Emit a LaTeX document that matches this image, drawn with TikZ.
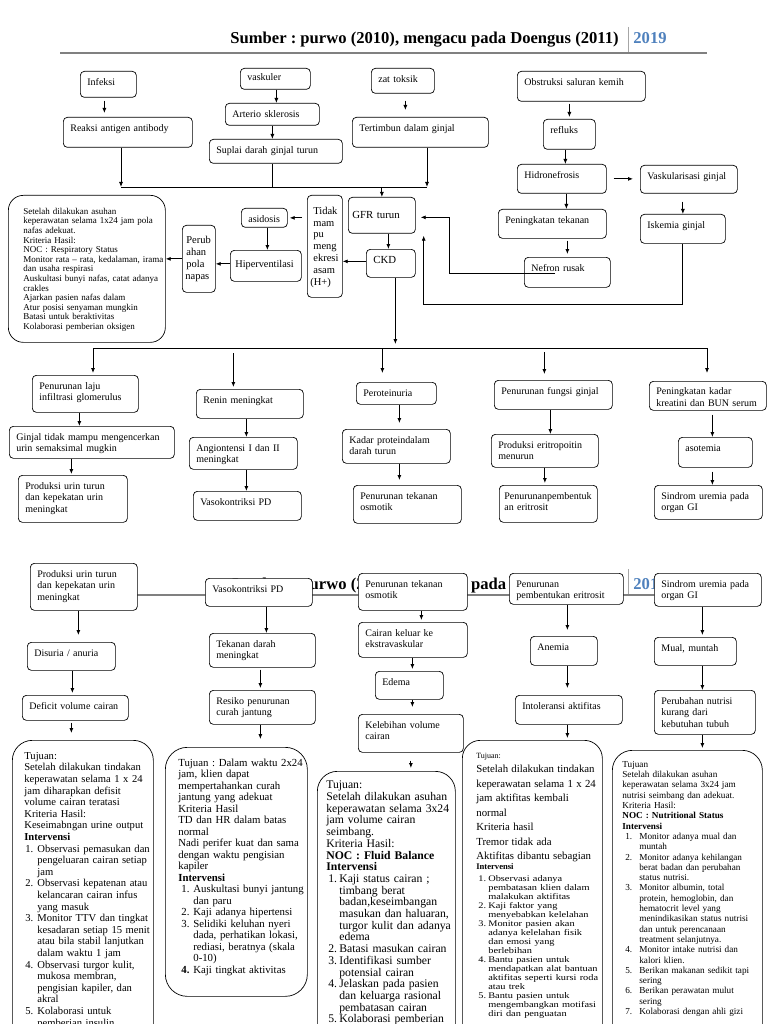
\documentclass[tikz,border=0pt]{standalone}
\usepackage{fontspec}
\setmainfont{Liberation Serif}
\newfontfamily\widefont{Liberation Serif}[FakeStretch=1.2]
\usepackage{xcolor}
\usepackage{tikz}
\usetikzlibrary{arrows.meta,positioning,calc}

\definecolor{yearblue}{RGB}{79,129,189}
\definecolor{rulegray}{RGB}{128,128,128}

\newlength{\itemw}
\newlength{\itemo}
\newcommand{\itm}[1]{\makebox[\itemw][l]{\hspace*{\itemo}#1}}
\newcommand{\ctn}{\hspace*{\itemw}}
\newcommand{\srcline}{Sumber : purwo (2010), mengacu pada Doengus (2011)}
\frenchspacing

\begin{document}
\begin{tikzpicture}[x=1pt, y=-1pt, line width=0.8pt,
    >={Latex[length=5pt,width=4pt]},
    box/.style 2 args={draw, line width=0.7pt, rounded corners=4pt, fill=white,
        anchor=north west, align=left, font=\fontsize{10}{11.6}\selectfont,
        inner xsep=7pt, inner ysep=3pt, minimum width=#1, minimum height=#2,
        text width=#1-14, text height=11pt, text depth=#2-17},
    tbox/.style n args={3}{draw, line width=0.7pt, rounded corners=18pt, fill=white,
        anchor=north west, align=left, inner xsep=4pt, inner ysep=0pt,
        minimum width=#1, minimum height=#2, text width=#1-8,
        text height=19pt, text depth=#2-19,
        execute at begin node={\leftskip=#3\relax\rightskip=-40pt plus 1fil\relax}},
    hdr/.style={anchor=base west, inner sep=0pt, font=\fontsize{16.6}{18}\selectfont\bfseries}]

    \useasboundingbox (0,0) rectangle (768,1024);
    \clip (0,0) rectangle (768,1024);
    \fill[white] (0,0) rectangle (768,1024);

    % Header
    \node[hdr] (src1) at (230,44) {\srcline};
    \node[hdr, text=yearblue] (yr1) at (633,44) {2019};
    \draw[rulegray!70, line width=0.6pt] (628,27) -- (628,52);
    \draw[rulegray, line width=1.4pt] (60,53) -- (707,53);

    % Header of the second sheet, mostly hidden behind the boxes
    \node[hdr] (src2) at (230,589) {\srcline};
    \node[hdr, text=yearblue] (yr2) at (633,589) {2019};
    \draw[rulegray!70, line width=0.6pt] (628,569) -- (628,594);
    \draw[rulegray, line width=1.4pt] (60,595) -- (707,595);

    % Causes
    \node[box={56}{26}] (infeksi) at (80,71) {Infeksi};
    \node[box={70}{21}, text height=9.5pt, text depth=5.5pt] (vaskuler) at (240,68) {vaskuler};
    \node[box={63}{25}] (toksik) at (371,68) {zat toksik};
    \node[box={128}{30}] (obstruksi) at (517,71) {Obstruksi saluran kemih};
    \node[box={129}{30}] (reaksi) at (63,117) {Reaksi antigen antibody};
    \node[box={94}{22}] (arterio) at (225,103) {Arterio sklerosis};
    \node[box={133}{24}] (suplai) at (209,139) {Suplai darah ginjal turun};
    \node[box={136}{30}] (tertimbun) at (352,117) {Tertimbun dalam ginjal};
    \node[box={52}{30}] (refluks) at (543,119) {refluks};
    \node[box={89}{29}] (hidro) at (517,164) {Hidronefrosis};
    \node[box={97}{28}] (vaskularisasi) at (640,165) {Vaskularisasi ginjal};
    \node[box={108}{29}] (tekanan) at (498,209) {Peningkatan tekanan};
    \node[box={85}{29}] (iskemia) at (640,214) {Iskemia ginjal};
    \node[box={86}{30}] (nefron) at (524,257) {Nefron rusak};

    % GFR, CKD and breathing
    \node[box={67}{36}, font=\fontsize{10.8}{12}\selectfont, inner xsep=4pt, text width=59pt,
        text height=18.5pt, text depth=11.5pt] (gfr) at (348,197) {GFR turun};
    \node[box={49}{28}, font=\fontsize{10.8}{12}\selectfont] (ckd) at (366,249) {CKD};
    \node[box={35}{102}, font=\fontsize{10.5}{11.8}\selectfont, inner xsep=3pt, text width=29pt,
        text height=16pt, text depth=80pt] (asam) at (307,195)
        {\leftskip=3pt Tidak\\mam\\pu\\meng\\ekresi\\asam\\(H+)};
    \node[box={46}{19}] (asidosis) at (241,208) {asidosis};
    \node[box={71}{31}, font=\fontsize{10.3}{12}\selectfont, inner xsep=5pt, text width=61pt,
        text height=14.5pt, text depth=10.5pt] (hiper) at (230,250) {Hiperventilasi};
    \node[box={33}{67}, font=\fontsize{10.5}{12}\selectfont, inner xsep=3pt, text width=27pt,
        text height=15pt, text depth=46pt] (pola) at (182,225) {\leftskip=1pt Perub\\ahan\\pola\\napas};
    \node[tbox={157}{147}{11pt}, rounded corners=15pt, font=\fontsize{9}{9.6}\selectfont] (respirasi) at (8,195)
        {Setelah dilakukan asuhan\\
         keperawatan selama 1x24 jam pola\\
         nafas adekuat.\\
         Kriteria Hasil:\\
         NOC : Respiratory Status\\
         Monitor rata -- rata, kedalaman, irama\\
         dan usaha respirasi\\
         Auskultasi bunyi nafas, catat adanya\\
         crakles\\
         Ajarkan pasien nafas dalam\\
         Atur posisi senyaman mungkin\\
         Batasi untuk beraktivitas\\
         Kolaborasi pemberian oksigen};

    % Effects of CKD
    \node[box={106}{37}] (laju) at (32,375) {Penurunan laju\\infiltrasi glomerulus};
    \node[box={165}{32}] (ginjal) at (9,426) {Ginjal tidak mampu mengencerkan\\urin semaksimal mugkin};
    \node[box={109}{47}] (urin) at (18,475) {Produksi urin turun\\dan kepekatan urin\\meningkat};
    \node[box={107}{29}] (renin) at (196,389) {Renin meningkat};
    \node[box={108}{32}] (angio) at (189,437) {Angiontensi I dan II\\meningkat};
    \node[box={108}{29}] (vaso) at (193,491) {Vasokontriksi PD};
    \node[box={80}{22}] (protein) at (356,382) {Peroteinuria};
    \node[box={108}{34}] (kadar) at (342,429) {Kadar proteindalam\\darah turun};
    \node[box={108}{38}] (osmotik) at (353,485) {Penurunan tekanan\\osmotik};
    \node[box={118}{29}] (fungsi) at (494,380) {Penurunan fungsi ginjal};
    \node[box={107}{33}] (eritro) at (491,434) {Produksi eritropoitin\\menurun};
    \node[box={98}{37}, inner xsep=5pt, text width=88pt] (sel) at (499,485) {Penurunanpembentuk\\an eritrosit};
    \node[box={117}{29}, text height=10.5pt, text depth=12.5pt] (kreatin) at (649,381) {Peningkatan kadar\\kreatini dan BUN serum};
    \node[box={74}{30}] (asotemia) at (678,437) {asotemia};
    \node[box={108}{34}] (sindrom) at (654,485) {Sindrom uremia pada\\organ GI};

    % Nursing problems
    \node[box={107}{47}] (urin2) at (30,563) {Produksi urin turun\\dan kepekatan urin\\meningkat};
    \node[box={88}{28}] (disuria) at (27,642) {Disuria / anuria};
    \node[box={106}{25}] (defisit) at (22,695) {Deficit volume cairan};
    \node[box={107}{28}] (vaso2) at (205,578) {Vasokontriksi PD};
    \node[box={106}{34}] (tensi) at (209,633) {Tekanan darah\\meningkat};
    \node[box={106}{34}] (resiko) at (209,690) {Resiko penurunan\\curah jantung};
    \node[box={109}{37}] (osmotik2) at (358,573) {Penurunan tekanan\\osmotik};
    \node[box={109}{35}] (ekstra) at (358,622) {Cairan keluar ke\\ekstravaskular};
    \node[box={68}{28}] (edema) at (375,671) {Edema};
    \node[box={105}{38}] (kelebihan) at (358,714) {Kelebihan volume\\cairan};
    \node[box={114}{31}] (sel2) at (509,573) {Penurunan\\pembentukan eritrosit};
    \node[box={67}{29}] (anemia) at (530,636) {Anemia};
    \node[box={107}{29}] (intoleransi) at (515,695) {Intoleransi aktifitas};
    \node[box={107}{33}] (sindrom2) at (654,573) {Sindrom uremia pada\\organ GI};
    \node[box={82}{28}] (mual) at (654,637) {Mual, muntah};
    \node[box={101}{44}] (nutrisi) at (654,690) {Perubahan nutrisi\\kurang dari\\kebutuhan tubuh};

    % Care plans
    \setlength{\itemw}{13pt}\setlength{\itemo}{1pt}
    \node[tbox={141}{320}{8pt}, rounded corners=20pt, font=\fontsize{10.6}{11.6}\selectfont] (tujuan1) at (12,740)
        {Tujuan:\\
         Setelah dilakukan tindakan\\
         keperawatan selama 1 x 24\\
         jam diharapkan defisit\\
         volume cairan teratasi\\
         Kriteria Hasil:\\
         Keseimabngan urine output\\
         \textbf{Intervensi}\\
         \itm{1.}Observasi pemasukan dan\\
         \ctn pengeluaran cairan setiap\\
         \ctn jam\\
         \itm{2.}Observasi kepatenan atau\\
         \ctn kelancaran cairan infus\\
         \ctn yang masuk\\
         \itm{3.}Monitor TTV dan tingkat\\
         \ctn kesadaran setiap 15 menit\\
         \ctn atau bila stabil lanjutkan\\
         \ctn dalam waktu 1 jam\\
         \itm{4.}Observasi turgor kulit,\\
         \ctn mukosa membran,\\
         \ctn pengisian kapiler, dan\\
         \ctn akral\\
         \itm{5.}Kolaborasi untuk\\
         \ctn pemberian insulin};

    \setlength{\itemw}{15pt}\setlength{\itemo}{3pt}
    \node[tbox={142}{249}{9pt}, rounded corners=22pt, font=\fontsize{10.8}{11.5}\selectfont] (tujuan2) at (165,747)
        {Tujuan : Dalam waktu 2x24\\
         jam, klien dapat\\
         mempertahankan curah\\
         jantung yang adekuat\\
         Kriteria Hasil\\
         TD dan HR dalam batas\\
         normal\\
         Nadi perifer kuat dan sama\\
         dengan waktu pengisian\\
         kapiler\\
         \textbf{Intervensi}\\
         \itm{1.}Auskultasi bunyi jantung\\
         \ctn dan paru\\
         \itm{2.}Kaji adanya hipertensi\\
         \itm{3.}Selidiki keluhan nyeri\\
         \ctn dada, perhatikan lokasi,\\
         \ctn rediasi, beratnya (skala\\
         \ctn 0-10)\\
         \itm{\textbf{4.}}Kaji tingkat aktivitas};

    \setlength{\itemw}{13pt}\setlength{\itemo}{2pt}
    \node[tbox={138}{320}{5pt}, rounded corners=20pt, text height=16pt, font=\fontsize{11.7}{11.7}\selectfont] (tujuan3) at (317,771)
        {Tujuan:\\
         Setelah dilakukan asuhan\\
         keperawatan selama 3x24\\
         jam volume cairan\\
         seimbang.\\
         Kriteria Hasil:\\
         \textbf{NOC : Fluid Balance}\\
         \textbf{Intervensi}\\
         \itm{1.}Kaji status cairan ;\\
         \ctn timbang berat\\
         \ctn badan,keseimbangan\\
         \ctn masukan dan haluaran,\\
         \ctn turgor kulit dan adanya\\
         \ctn edema\\
         \itm{2.}Batasi masukan cairan\\
         \itm{3.}Identifikasi sumber\\
         \ctn potensial cairan\\
         \itm{4.}Jelaskan pada pasien\\
         \ctn dan keluarga rasional\\
         \ctn pembatasan cairan\\
         \itm{5.}Kolaborasi pemberian};

    \setlength{\itemw}{12pt}\setlength{\itemo}{2pt}
    \node[tbox={140}{320}{10pt}, text height=17pt] (tujuan4) at (462,740)
        {{\fontsize{8}{9}\selectfont Tujuan:\par}
         {\fontsize{10.8}{14.5}\selectfont Setelah dilakukan tindakan\\
         keperawatan selama 1 x 24\\
         jam aktifitas kembali\\
         normal\\
         Kriteria hasil\\
         Tremor tidak ada\\
         Aktifitas dibantu sebagian\par}
         {\fontsize{8.6}{10}\selectfont\bfseries Intervensi\par}
         \vspace{3pt}
         {\widefont\fontsize{8.6}{9}\selectfont
         \itm{1.}Observasi adanya\\
         \ctn pembatasan klien dalam\\
         \ctn malakukan aktifitas\\
         \itm{2.}Kaji faktor yang\\
         \ctn menyebabkan kelelahan\\
         \itm{3.}Monitor pasien akan\\
         \ctn adanya kelelahan fisik\\
         \ctn dan emosi yang\\
         \ctn berlebihan\\
         \itm{4.}Bantu pasien untuk\\
         \ctn mendapatkan alat bantuan\\
         \ctn aktifitas seperti kursi roda\\
         \ctn atau trek\\
         \itm{5.}Bantu pasien untuk\\
         \ctn mengembangkan motifasi\\
         \ctn diri dan penguatan\par}};

    \setlength{\itemw}{17pt}\setlength{\itemo}{3pt}
    \node[tbox={150}{320}{6pt}, rounded corners=20pt, text height=15pt, font=\fontsize{9.2}{10.3}\selectfont] (tujuan5) at (612,750)
        {Tujuan\\
         Setelah dilakukan asuhan\\
         keperawatan selama 3x24 jam\\
         nutrisi seimbang dan adekuat.\\
         Kriteria Hasil:\\
         \textbf{NOC : Nutritional Status}\\
         \textbf{Intervensi}\\
         \itm{1.}Monitor adanya mual dan\\
         \ctn muntah\\
         \itm{2.}Monitor adanya kehilangan\\
         \ctn berat badan dan perubahan\\
         \ctn status nutrisi.\\
         \itm{3.}Monitor albumin, total\\
         \ctn protein, hemoglobin, dan\\
         \ctn hematocrit level yang\\
         \ctn menindikasikan status nutrisi\\
         \ctn dan untuk perencanaan\\
         \ctn treatment selanjutnya.\\
         \itm{4.}Monitor intake nutrisi dan\\
         \ctn kalori klien.\\
         \itm{5.}Berikan makanan sedikit tapi\\
         \ctn sering\\
         \itm{6.}Berikan perawatan mulut\\
         \ctn sering\\
         \itm{7.}Kolaborasi dengan ahli gizi};

    % Arrows: causes
    \draw[->, shorten <=3pt, shorten >=4pt] ([xshift=-4pt]infeksi.south) -- ([xshift=-4pt]infeksi.south |- reaksi.north);
    \draw[->] ([xshift=1pt]vaskuler.south) -- ([xshift=1pt]vaskuler.south |- arterio.north);
    \draw[->] (arterio.south) -- (arterio.south |- suplai.north);
    \draw[->, shorten <=7pt, shorten >=7pt] ([xshift=2.5pt]toksik.south) -- ([xshift=2.5pt]toksik.south |- tertimbun.north);
    \draw[->, shorten <=2pt, shorten >=2pt] (refluks.north |- obstruksi.south) -- (refluks.north);
    \draw[->] ([xshift=-4pt]refluks.south) -- ([xshift=-4pt]refluks.south |- hidro.north);
    \draw[->, shorten <=7pt, shorten >=7pt] (hidro.east) -- (hidro.east -| vaskularisasi.west);
    \draw[->] ([xshift=4.5pt]hidro.south) -- ([xshift=4.5pt]hidro.south |- tekanan.north);
    \draw[->, shorten <=8pt] (iskemia.north |- vaskularisasi.south) -- (iskemia.north);
    \draw[->, shorten <=2pt, shorten >=3pt] (nefron.north |- tekanan.south) -- (nefron.north);
    \draw[->, shorten >=5pt] ([xshift=31pt, yshift=-1pt]nefron.west) -- ++(-106,0) |- ([yshift=-2pt]gfr.east);
    \draw[->, shorten >=2pt] (iskemia.south) -- ++(0,61) -| ([xshift=8pt]gfr.south east);

    % Collector into GFR
    \coordinate (jl) at (121,187);
    \coordinate (jr) at (427,187);
    \draw[->] (reaksi.south -| jl) -- (jl);
    \draw[->] (tertimbun.south -| jr) -- (jr);
    \draw (jl) -- (jr);
    \draw ([xshift=-3pt]suplai.south) -- ([xshift=-3pt]suplai.south |- jl);
    \draw[->] (gfr.north |- jl) -- (gfr.north);

    % GFR, CKD and breathing
    \draw[->] ([xshift=-2.5pt]ckd.north |- gfr.south) -- ([xshift=-2.5pt]ckd.north);
    \draw[->] ([yshift=2pt]ckd.west) -- ([yshift=2pt]ckd.west -| asam.east);
    \draw[->, shorten <=5pt, shorten >=2pt] (asidosis.east -| asam.west) -- (asidosis.east);
    \draw[->] ([xshift=3pt]asidosis.south) -- ([xshift=3pt]asidosis.south |- hiper.north);
    \draw[->] ([yshift=2pt]hiper.west) -- ([yshift=2pt]hiper.west -| pola.east);
    \draw[->] (pola.west) -- (pola.west -| respirasi.east);

    % Split below CKD
    \coordinate (ml) at (93,348);
    \coordinate (mr) at (707,348);
    \draw[->] ([xshift=4.5pt]ckd.south) -- ([xshift=4.5pt, yshift=4pt]ckd.south |- ml);
    \draw (ml) -- (mr);
    \draw[->, shorten >=2pt] (ml) -- (ml |- laju.north);
    \draw[->, shorten <=5pt, shorten >=2pt] ([xshift=-16.5pt]renin.north |- ml) -- ([xshift=-16.5pt]renin.north);
    \draw[->, shorten >=9pt] ([xshift=-14pt]protein.north |- ml) -- ([xshift=-14pt]protein.north);
    \draw[->, shorten <=4pt, shorten >=6pt] ([xshift=-9pt]fungsi.north |- ml) -- ([xshift=-9pt]fungsi.north);
    \draw[->, shorten >=8pt] (mr) -- (mr |- kreatin.north);

    % Chains
    \draw[->] ([xshift=-6pt]laju.south) -- ([xshift=-6pt]laju.south |- ginjal.north);
    \draw[->, shorten >=1pt] ([xshift=-20.5pt]ginjal.south) -- ([xshift=-20.5pt]ginjal.south |- urin.north);
    \draw[->] ([xshift=-3.5pt]renin.south) -- ([xshift=-3.5pt]renin.south |- angio.north);
    \draw[->] ([xshift=3pt]angio.south) -- ([xshift=3pt]angio.south |- vaso.north);
    \draw[->, shorten >=6pt] ([xshift=3pt]protein.south) -- ([xshift=3pt]protein.south |- kadar.north);
    \draw[->, shorten >=5pt] ([xshift=3pt]kadar.south) -- ([xshift=3pt]kadar.south |- osmotik.north);
    \draw[->] ([xshift=-3pt]fungsi.south) -- ([xshift=-3pt]fungsi.south |- eritro.north);
    \draw[->, shorten >=2pt] (eritro.south) -- (eritro.south |- sel.north);
    \draw[->, shorten <=4pt] ([xshift=4.5pt]kreatin.south) -- ([xshift=4.5pt]kreatin.south |- asotemia.north);
    \draw[->, shorten <=4pt] ([xshift=-3pt]asotemia.south) -- ([xshift=-3pt]asotemia.south |- sindrom.north);

    % Nursing problems
    \draw[->, shorten >=7pt] ([xshift=-5.5pt]urin2.south) -- ([xshift=-5.5pt]urin2.south |- disuria.north);
    \draw[->, shorten >=2pt] ([xshift=1pt]disuria.south) -- ([xshift=1pt]disuria.south |- defisit.north);
    \draw[->, shorten <=2pt, shorten >=7pt] ([xshift=-4pt]defisit.south) -- ([xshift=-4pt]defisit.south |- tujuan1.north);
    \draw[->] ([xshift=7.5pt]vaso2.south) -- ([xshift=7.5pt]vaso2.south |- tensi.north);
    \draw[->, shorten <=2pt, shorten >=2pt] ([xshift=-2pt]tensi.south) -- ([xshift=-2pt]tensi.south |- resiko.north);
    \draw[->, shorten >=8pt] ([xshift=-2pt]resiko.south) -- ([xshift=-2pt]resiko.south |- tujuan2.north);
    \draw[->, shorten >=2pt] ([xshift=8.5pt]osmotik2.south) -- ([xshift=8.5pt]osmotik2.south |- ekstra.north);
    \draw[->, shorten >=2pt] ([xshift=-0.5pt]ekstra.south) -- ([xshift=-0.5pt]ekstra.south |- edema.north);
    \draw[->, shorten >=7pt] ([xshift=3pt]edema.south) -- ([xshift=3pt]edema.south |- kelebihan.north);
    \draw[->, shorten <=8pt, shorten >=3pt] (kelebihan.south) -- (kelebihan.south |- tujuan3.north);
    \draw[->, shorten >=6pt] ([xshift=1pt]sel2.south) -- ([xshift=1pt]sel2.south |- anemia.north);
    \draw[->, shorten >=7pt] ([xshift=3.5pt]anemia.south) -- ([xshift=3.5pt]anemia.south |- intoleransi.north);
    \draw[->, shorten >=2pt] ([xshift=-1.5pt]intoleransi.south) -- ([xshift=-1.5pt]intoleransi.south |- tujuan4.north);
    \draw[->, shorten >=2pt] ([xshift=-5.5pt]sindrom2.south) -- ([xshift=-5.5pt]sindrom2.south |- mual.north);
    \draw[->] ([xshift=7pt]mual.south) -- ([xshift=7pt]mual.south |- nutrisi.north);
    \draw[->, shorten >=2pt] ([xshift=-2.5pt]nutrisi.south) -- ([xshift=-2.5pt]nutrisi.south |- tujuan5.north);
\end{tikzpicture}
\end{document}
